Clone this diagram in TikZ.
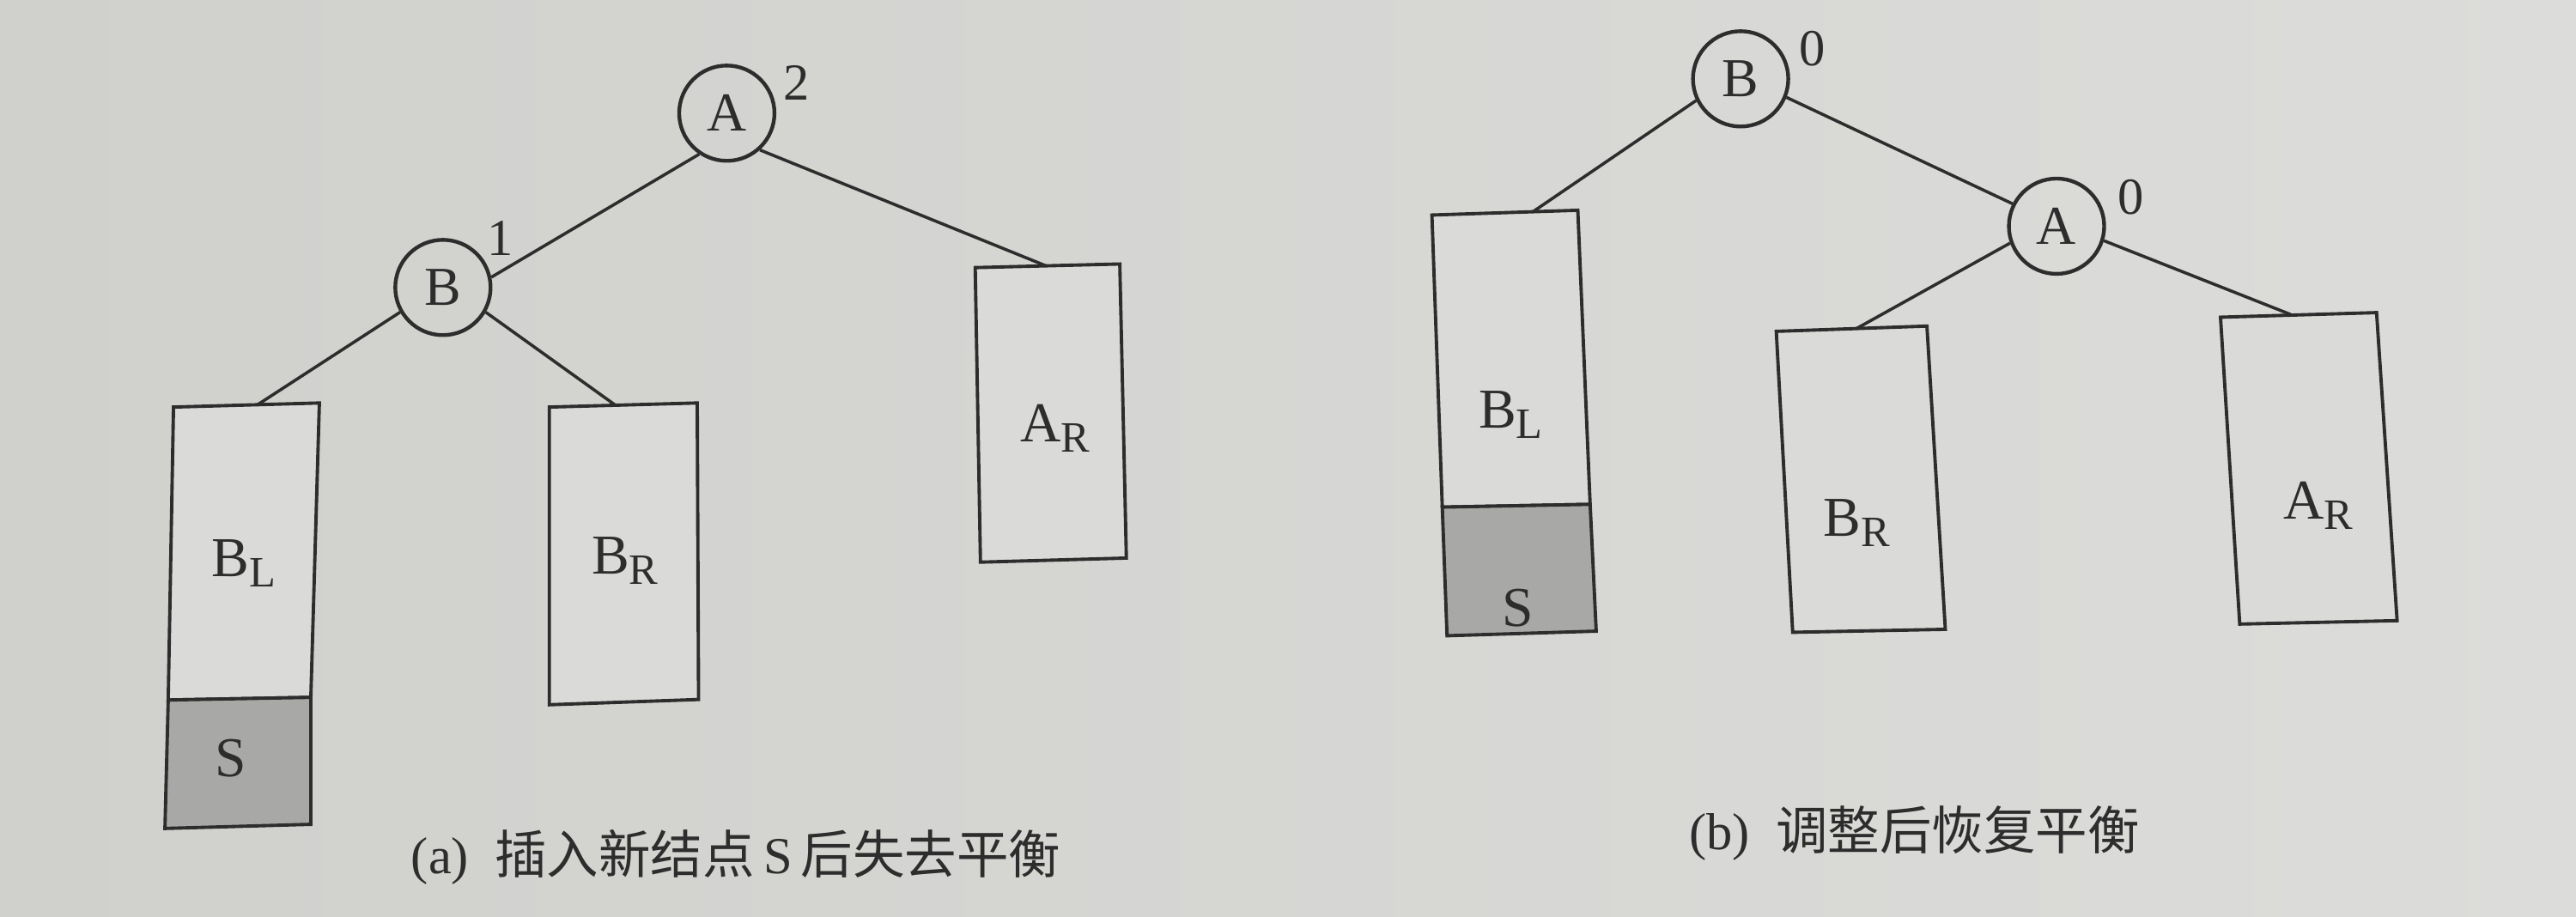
\documentclass[tikz,border=0pt]{standalone}
\usepackage{fontspec}
\setmainfont{Liberation Serif}
\newfontfamily\cjk{Noto Sans CJK SC}
\definecolor{paper}{RGB}{208,208,205}
\definecolor{paperR}{RGB}{220,220,218}
\definecolor{ink}{RGB}{45,45,45}
\definecolor{boxfill}{RGB}{218,218,216}
\definecolor{sfill}{RGB}{168,168,166}
\newcommand{\sbsc}[1]{\raisebox{-0.4ex}{\fontsize{15}{15}\selectfont #1}}
\tikzset{
  treenode/.style={circle, draw=ink, line width=1.3pt, minimum size=11.6mm, inner sep=0pt,
    text=ink, font=\fontsize{19}{19}\selectfont},
  edge/.style={draw=ink, line width=1.05pt},
  subtree/.style={draw=ink, line width=1.15pt, fill=boxfill, line join=miter},
  sbox/.style={draw=ink, line width=1.15pt, fill=sfill},
  boxlabel/.style={text=ink, font=\fontsize{19.5}{19.5}\selectfont, inner sep=0pt},
  bal/.style={text=ink, font=\fontsize{18}{18}\selectfont, inner sep=0pt},
  caption/.style={text=ink, font=\fontsize{18}{18}\selectfont, inner sep=0pt}
}
\begin{document}
\begin{tikzpicture}[x=0.2mm, y=-0.2mm]
\useasboundingbox (0,0) rectangle (1568,558);
\shade[left color=paper, right color=paperR] (0,0) rectangle (1568,558);

% ---------- (a) ----------
\node[treenode] (aA) at (442.4,68.9) {A};
\node[treenode] (aB) at (269.6,175) {B};
\node[bal] (a2) at (485,50.5) {2};
\node[bal] (a1) at (304.4,145) {1};

% BL with S
\draw[subtree] (105.6,247.8) -- (194.4,245.3) -- (189.2,424.5) -- (102.4,426.1) -- cycle;
\draw[sbox] (102.4,426.1) -- (189.2,424.5) -- (189.2,501.8) -- (100.4,504.3) -- cycle;
\coordinate (aBLtop) at (156.4,246.6);
\node[boxlabel] (aBL) at (148.4,342.8) {B\sbsc{L}};
\node[boxlabel] (aS) at (140.4,461.6) {S};

% BR
\draw[subtree] (334.4,247.8) -- (424.4,245.3) -- (425.2,425.8) -- (334.4,429) -- cycle;
\coordinate (aBRtop) at (374.4,246.5);
\node[boxlabel] (aBR) at (380.4,341.2) {B\sbsc{R}};

% AR
\draw[subtree] (593.6,162.9) -- (681.6,160.7) -- (685.6,339.7) -- (596.8,342.2) -- cycle;
\coordinate (aARtop) at (636.4,161.7);
\node[boxlabel] (aAR) at (642.4,260.5) {A\sbsc{R}};

\draw[edge] (aA.-124) -- (aB.12);
\draw[edge] (aA.-48) -- (aARtop);
\draw[edge] (aB.-150) -- (aBLtop);
\draw[edge] (aB.-30) -- (aBRtop);

\node[caption] (capa) at (448,522) {(a)\ \ {\cjk 插入新结点}\,S\,{\cjk 后失去平衡}};

% ---------- (b) ----------
\node[treenode] (bB) at (1059.5,48) {B};
\node[treenode] (bA) at (1251.8,137.7) {A};
\node[bal] (b0a) at (1102.9,29.5) {0};
\node[bal] (b0b) at (1297,120) {0};

% BL with S
\draw[subtree] (871.6,130.9) -- (960.4,128) -- (967.9,307) -- (877.9,308.7) -- cycle;
\draw[sbox] (877.9,308.7) -- (967.9,307) -- (971.6,384.2) -- (880.8,387) -- cycle;
\coordinate (bBLtop) at (932.9,129);
\node[boxlabel] (bBL) at (919.5,252.5) {B\sbsc{L}};
\node[boxlabel] (bS) at (923.7,369.9) {S};

% BR
\draw[subtree] (1081.2,201.7) -- (1172.9,198.5) -- (1184.1,383.1) -- (1091.2,384.9) -- cycle;
\coordinate (bBRtop) at (1130,200);
\node[boxlabel] (bBR) at (1130,318.4) {B\sbsc{R}};

% AR
\draw[subtree] (1351.6,193.1) -- (1446.6,190.3) -- (1459.1,377.8) -- (1363.3,379.9) -- cycle;
\coordinate (bARtop) at (1394.5,191.5);
\node[boxlabel] (bAR) at (1411.2,307.7) {A\sbsc{R}};

\draw[edge] (bB.-154) -- (bBLtop);
\draw[edge] (bB.-22) -- (bA.153);
\draw[edge] (bA.-160) -- (bBRtop);
\draw[edge] (bA.-17) -- (bARtop);

\node[caption] (capb) at (1165.4,507) {(b)\ \ {\cjk 调整后恢复平衡}};
\end{tikzpicture}
\end{document}
